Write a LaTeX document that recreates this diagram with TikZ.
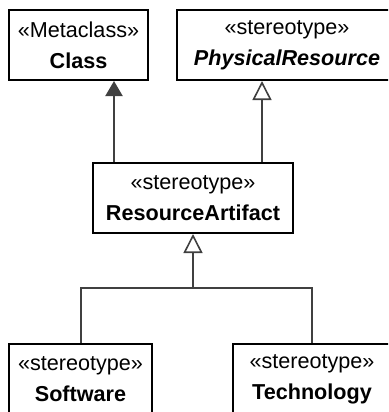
\documentclass[tikz,border=0pt]{standalone}
\usepackage{fontspec}
\setmainfont{Liberation Sans}
\usepackage{xcolor}
\usepackage{tikz}
\usetikzlibrary{arrows.meta,positioning,calc}
\definecolor{linkgray}{HTML}{404040}

\begin{document}
\begin{tikzpicture}[
    x=1pt, y=-1pt,
    font=\fontsize{21.6}{31}\selectfont,
    umlbox/.style={draw, line width=2pt, align=center, anchor=north west,
                   minimum height=70pt, inner sep=0pt},
    link/.style={draw=linkgray, line width=2pt},
    ext/.style={link, -{Triangle[length=15pt, width=17pt, fill=linkgray]}},
    gen/.style={link, -{Triangle[open, length=19pt, width=19pt, fill=white, line width=1.6pt]}},
  ]
  \useasboundingbox (0,0) rectangle (388,412);
  \clip (0,0) rectangle (388,412);

  \node[umlbox, minimum width=139pt] (cls) at (8,9) {«Metaclass»\\ \textbf{Class}};
  \node[umlbox, minimum width=220pt] (phys) at (176,9) {«stereotype»\\ \textbf{\textit{PhysicalResource}}};
  \node[umlbox, minimum width=200pt] (ra) at (92,162) {«stereotype»\\ \textbf{ResourceArtifact}};
  \node[umlbox, minimum width=143pt] (sw) at (8,343) {«stereotype»\\ \textbf{Software}};
  \node[umlbox, minimum width=158pt] (tech) at (232,343) {«stereotype»\\ \textbf{Technology}};

  % extension and generalization
  \draw[ext] ([xshift=22pt]ra.north west) -- ([xshift=22pt]ra.north west |- cls.south);
  \draw[gen] ([xshift=-32pt]ra.north east) -- ([xshift=-32pt]ra.north east |- phys.south);
  \draw[link] (sw.north) -- ++(0,-55) coordinate (j) -| (tech.north);
  \draw[gen] (j -| ra.south) -- (ra.south);
\end{tikzpicture}
\end{document}
